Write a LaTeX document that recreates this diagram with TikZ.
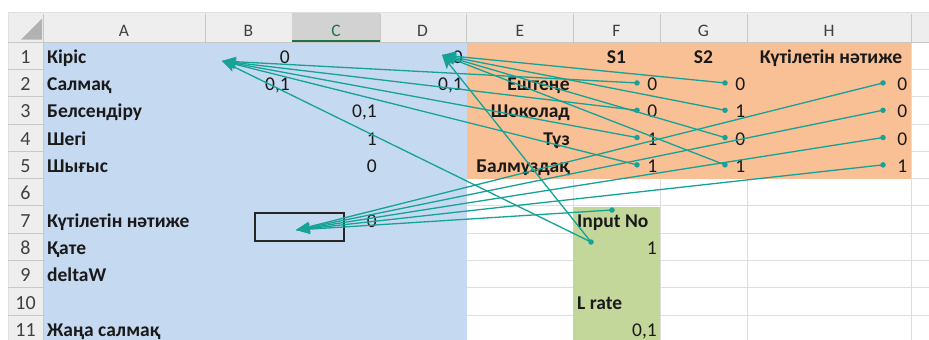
\documentclass[tikz,border=0pt]{standalone}
\usepackage{fontspec}
\setmainfont{Carlito}
\usetikzlibrary{arrows.meta}
\definecolor{cellblue}{RGB}{197,217,240}
\definecolor{cellorange}{RGB}{248,192,148}
\definecolor{cellgreen}{RGB}{196,215,155}
\definecolor{hdrgray}{RGB}{238,238,238}
\definecolor{hdrsel}{RGB}{210,210,210}
\definecolor{hdrline}{RGB}{200,200,200}
\definecolor{gridgray}{RGB}{222,222,222}
\definecolor{trace}{RGB}{22,162,150}
\definecolor{xlgreen}{RGB}{33,115,70}
\definecolor{ink}{RGB}{25,25,25}
\tikzset{
  every picture/.style={
    >={Stealth[width=10pt, length=14pt, inset=3pt]}
  },
  cellfont/.style={font=\fontsize{19.5}{23}\selectfont, text=ink, inner sep=0pt},
  boldleft/.style={cellfont, font=\fontsize{19.5}{23}\selectfont\bfseries, anchor=base west},
  boldright/.style={boldleft, anchor=base east},
  boldmid/.style={boldleft, anchor=base},
  numcell/.style={cellfont, anchor=base east},
  colhead/.style={font=\fontsize{17.5}{20}\selectfont, text=black!75, anchor=base, inner sep=0pt},
  rowhead/.style={font=\fontsize{20}{23}\selectfont, text=black!75, anchor=base, inner sep=0pt},
  gridline/.style={draw=gridgray, line width=0.8pt},
  hdrsep/.style={draw=hdrline, line width=0.7pt},
  dot/.style={circle, fill=trace, minimum width=5.5pt, inner sep=0pt},
  precedent/.style={->, draw=trace, line width=1.3pt},
  tracebox/.style={draw=black!85, line width=1.2pt, minimum width=89pt, minimum height=28pt, inner sep=0pt}
}
\begin{document}
\begin{tikzpicture}[x=1pt, y=-1pt]
  \useasboundingbox (0,0) rectangle (929,340);
  \fill[white] (0,0) rectangle (929,340);
  % grid of the sheet
  \foreach \x in {205,292,380,466.5,573,660,747,911}
    \draw[gridline] (\x,42) -- (\x,340);
  \foreach \r in {1,...,11}
    \draw[gridline] (43,{42+27.3*\r}) -- (929,{42+27.3*\r});
  % filled blocks
  \fill[cellblue] (43,42) rectangle (466.5,340);
  \fill[cellorange] (466.5,42) rectangle (911,178.5);
  \fill[cellgreen] (573,206.8) rectangle (660,340);
  % column and row headers
  \fill[hdrgray] (8,12) rectangle (929,42);
  \fill[hdrgray] (8,42) rectangle (43,340);
  \fill[hdrsel] (292,12) rectangle (380,42);
  \draw[black!12, line width=0.8pt] (8,340) -- (8,12) -- (929,12);
  \fill[black!30] (21,39.5) -- (42,39.5) -- (42,18.5) -- cycle;
  \foreach \x in {43,205,380,466.5,573,660,747,911}
    \draw[hdrsep] (\x,14) -- (\x,42);
  \foreach \r in {1,...,11}
    \draw[hdrsep] (8,{42+27.3*\r}) -- (43,{42+27.3*\r});
  \draw[hdrline, line width=0.9pt] (8,42) -- (929,42);
  \draw[hdrline, line width=0.9pt] (43,42) -- (43,340);
  \draw[xlgreen, line width=1.8pt] (292,41) -- (380,41);
  \foreach \x/\c in {124/A,248.5/B,422.5/D,520/E,616.5/F,703.5/G,829/H}
    \node[colhead] (col\c) at (\x,36) {\c};
  \node[colhead, text=xlgreen] (colC) at (336,36) {C};
  \foreach \r in {1,...,11}
    \node[rowhead] (row\r) at (25.5,{42+27.3*\r-6}) {\r};
  % column A
  \foreach \r/\t in {1/Кіріс,2/Салмақ,3/Белсендіру,4/Шегі,5/Шығыс,
      7/Күтілетін нәтиже,8/Қате,9/deltaW,11/Жаңа салмақ}
    \node[boldleft] (a\r) at (47,{42+27.3*\r-6}) {\t};
  % columns B to D
  \node[numcell] (b1) at (290,{42+27.3-6}) {0};
  \node[numcell] (d1) at (463,{42+27.3-6}) {0};
  \node[numcell] (b2) at (290,{42+27.3*2-6}) {0,1};
  \node[numcell] (d2) at (463,{42+27.3*2-6}) {0,1};
  \foreach \r/\t in {3/{0,1},4/1,5/0,7/0}
    \node[numcell] (c\r) at (377,{42+27.3*\r-6}) {\t};
  % inputs table
  \node[boldmid] (f1) at (616.5,{42+27.3-6}) {S1};
  \node[boldmid] (g1) at (703.5,{42+27.3-6}) {S2};
  \node[boldmid] (h1) at (831,{42+27.3-6}) {Күтілетін нәтиже};
  \foreach \r/\t/\p/\q/\s in {2/Ештеңе/0/0/0,3/Шоколад/0/1/0,4/Тұз/1/0/0,5/Балмұздақ/1/1/1}{
    \node[boldright] (e\r) at (570,{42+27.3*\r-6}) {\t};
    \node[numcell] (f\r) at (657.5,{42+27.3*\r-6}) {\p};
    \node[numcell] (g\r) at (745.5,{42+27.3*\r-6}) {\q};
    \node[numcell] (h\r) at (907.5,{42+27.3*\r-6}) {\s};
  }
  \node[boldleft] (f7) at (577,{42+27.3*7-6}) {Input No};
  \node[numcell] (f8) at (657,{42+27.3*8-6}) {1};
  \node[boldleft] (f10) at (577,{42+27.3*10-6}) {L rate};
  \node[numcell] (f11) at (657,{42+27.3*11-6}) {0,1};
  % trace precedents
  \node[tracebox] (box) at (299.5,227) {};
  \coordinate (tipB) at (222,61);
  \coordinate (tipD) at (442,55);
  \coordinate (tipC) at (296,230);
  \foreach \r in {2,...,5}{
    \coordinate (s1\r) at (637,{42+27.3*(\r-0.5)});
    \coordinate (s2\r) at (725,{42+27.3*(\r-0.5)});
    \coordinate (exp\r) at (883,{42+27.3*(\r-0.5)});
    \draw[precedent] (s1\r) -- (tipB);
    \draw[precedent] (s2\r) -- (tipD);
    \draw[precedent] (exp\r) -- (tipC);
  }
  \coordinate (inno) at (612,210);
  \coordinate (innum) at (591,242);
  \draw[precedent] (innum) -- (tipB);
  \draw[precedent] (innum) -- (tipD);
  \draw[precedent] (inno) -- (tipC);
  \foreach \p in {s12,s13,s14,s15,s22,s23,s24,s25,exp2,exp3,exp4,exp5,inno,innum}
    \node[dot] (dot\p) at (\p) {};
\end{tikzpicture}
\end{document}
